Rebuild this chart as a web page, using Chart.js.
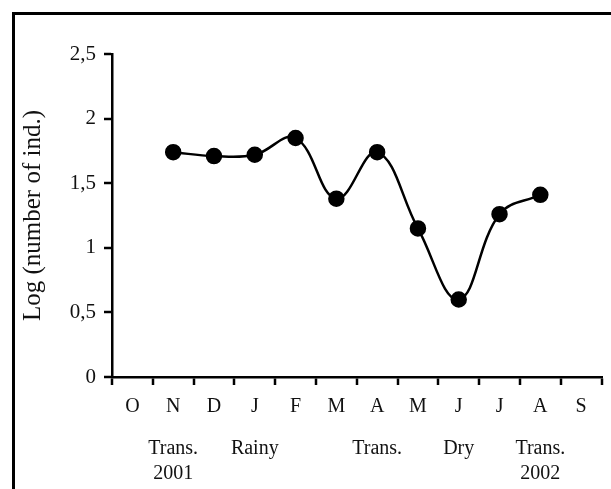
<!DOCTYPE html>
<html>
<head>
<meta charset="utf-8">
<script src="https://cdn.jsdelivr.net/npm/chart.js@4/dist/chart.umd.min.js"></script>
<style>
    html, body { margin: 0; padding: 0; background: #fff; overflow: hidden; }
    #wrap { position: relative; width: 611px; height: 489px; }
    #frame { position: absolute; left: 12px; top: 12px; width: 700px; height: 600px; border: 3px solid #000; }
    #chart { position: absolute; left: 0; top: 0; }
</style>
</head>
<body>
<div id="wrap">
    <div id="frame"></div>
    <canvas id="chart" width="611" height="489"></canvas>
</div>
<script>
// Months (Oct 2001 - Sep 2002)
const months = ['O', 'N', 'D', 'J', 'F', 'M', 'A', 'M', 'J', 'J', 'A', 'S'];
// Log (number of individuals), no sampling in O and S
const logInd = [null, 1.74, 1.71, 1.72, 1.85, 1.38, 1.74, 1.15, 0.60, 1.26, 1.41, null];
// Season labels under the months
const seasons = ['', ['Trans.', '2001'], '', 'Rainy', '', '', 'Trans.', '', 'Dry', '', ['Trans.', '2002'], ''];
const yTicks = [0, 0.5, 1, 1.5, 2, 2.5];

const serif = "'Liberation Serif', 'Times New Roman', serif";

document.addEventListener("DOMContentLoaded", function() {
    const ctx = document.getElementById('chart').getContext('2d');
    new Chart(ctx, {
        type: 'line',
        data: {
            labels: months,
            datasets: [{
                data: logInd,
                borderColor: '#000',
                backgroundColor: '#000',
                borderWidth: 2.5,
                tension: 0.4,
                pointRadius: 7,
                pointBackgroundColor: '#000',
                pointBorderColor: '#000',
                spanGaps: false
            }]
        },
        options: {
            responsive: false,
            animation: false,
            layout: { padding: { top: 54, right: 8, bottom: 0, left: 0 } },
            plugins: { legend: { display: false }, tooltip: { enabled: false } },
            scales: {
                x: {
                    type: 'category',
                    offset: true,
                    grid: { offset: true, drawOnChartArea: false, color: '#000', lineWidth: 2, tickLength: 8, tickWidth: 2.5 },
                    border: { color: '#000', width: 2.5 },
                    ticks: { color: '#111', padding: 10, autoSkip: false, maxRotation: 0, font: { family: serif, size: 20 } },
                    afterFit: (scale) => { scale.height = 42; }
                },
                x2: {
                    type: 'category',
                    position: 'bottom',
                    labels: seasons,
                    offset: true,
                    grid: { display: false },
                    border: { display: false },
                    ticks: { color: '#111', padding: 9, autoSkip: false, maxRotation: 0, font: { family: serif, size: 20, lineHeight: 1.25 } },
                    afterFit: (scale) => { scale.height = 70; }
                },
                y: {
                    min: 0,
                    max: 2.5,
                    afterBuildTicks: (scale) => { scale.ticks = yTicks.map(v => ({ value: v })); },
                    grid: { drawOnChartArea: false, color: '#000', lineWidth: 2, tickLength: 8, tickWidth: 2.5 },
                    border: { color: '#000', width: 2.5 },
                    ticks: {
                        color: '#111',
                        padding: 8,
                        font: { family: serif, size: 21 },
                        callback: (v) => String(v).replace('.', ',')
                    },
                    title: {
                        display: true,
                        text: 'Log (number of ind.)',
                        color: '#111',
                        font: { family: serif, size: 25 },
                        padding: { top: 18, bottom: 0 }
                    },
                    afterFit: (scale) => { scale.width = 112; }
                }
            }
        }
    });
});
</script>
</body>
</html>
